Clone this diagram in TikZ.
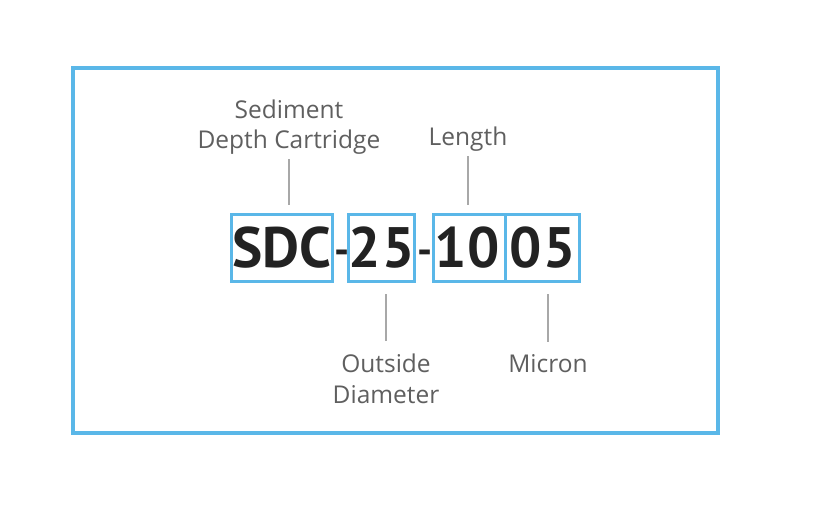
\documentclass[tikz,border=0pt]{standalone}
\usepackage{fontspec}
\setmainfont{PT Sans}
\newfontfamily\captionfont{Open Sans}
\definecolor{frame-blue}{HTML}{5AB7E8}
\definecolor{label-gray}{HTML}{5F5F5F}
\definecolor{leader-gray}{HTML}{A8A8A8}
\definecolor{code-black}{HTML}{222222}

\begin{document}
\begin{tikzpicture}[
    x=1pt, y=-1pt,
    codebox/.style={
        draw=frame-blue, line width=3.2pt, inner sep=0pt,
        minimum height=67pt,
        text=code-black,
        font=\fontsize{57}{60}\selectfont\bfseries,
    },
    dash char/.style={
        inner sep=0pt, anchor=base, text=code-black,
        font=\fontsize{42}{50}\selectfont\bfseries,
    },
    caption/.style={
        inner sep=0pt, align=center, text=label-gray,
        font=\captionfont\fontsize{24.5}{31}\selectfont,
    },
    leader/.style={ draw=leader-gray, line width=1.4pt, },
]
\useasboundingbox (0,0) rectangle (816,524);

% outer frame
\draw[draw=frame-blue, line width=4pt] (72.8,67.8) rectangle (718.3,433);

% code boxes
\node[codebox, minimum width=101pt] (sdc) at (282,248) {SDC};
\node[codebox, minimum width=62pt] (od) at (381.5,248) {2\kern2pt5};
\node[codebox, minimum width=71.5pt] (len) at (469.5,248) {1\kern1pt0\kern5pt};
\node[codebox, minimum width=74.2pt] (mic) at (542.4,248) {0\kern2pt5};
\node[dash char] (dash1) at (342.5,264) {-};
\node[dash char] (dash2) at (425,264) {-};

% captions
\node[caption, anchor=base] (sdc label) at (289,149) {Sediment\\Depth Cartridge};
\node[caption, anchor=base] (len label) at (468,146) {Length};
\node[caption, anchor=base] (od label) at (386,403) {Outside\\Diameter};
\node[caption, anchor=base] (mic label) at (548,372) {Micron};

% leaders
\draw[leader, shorten <=4pt, shorten >=7.5pt]
    (sdc label.south) -- (sdc label.south |- sdc.north);
\draw[leader, shorten <=4pt, shorten >=7.5pt]
    (len label.south) -- (len label.south |- len.north);
\draw[leader, shorten <=12pt, shorten >=10.5pt]
    (od label.north) -- (od label.north |- od.south);
\draw[leader, shorten <=12pt, shorten >=10.5pt]
    (mic label.north) -- (mic label.north |- mic.south);
\end{tikzpicture}
\end{document}
